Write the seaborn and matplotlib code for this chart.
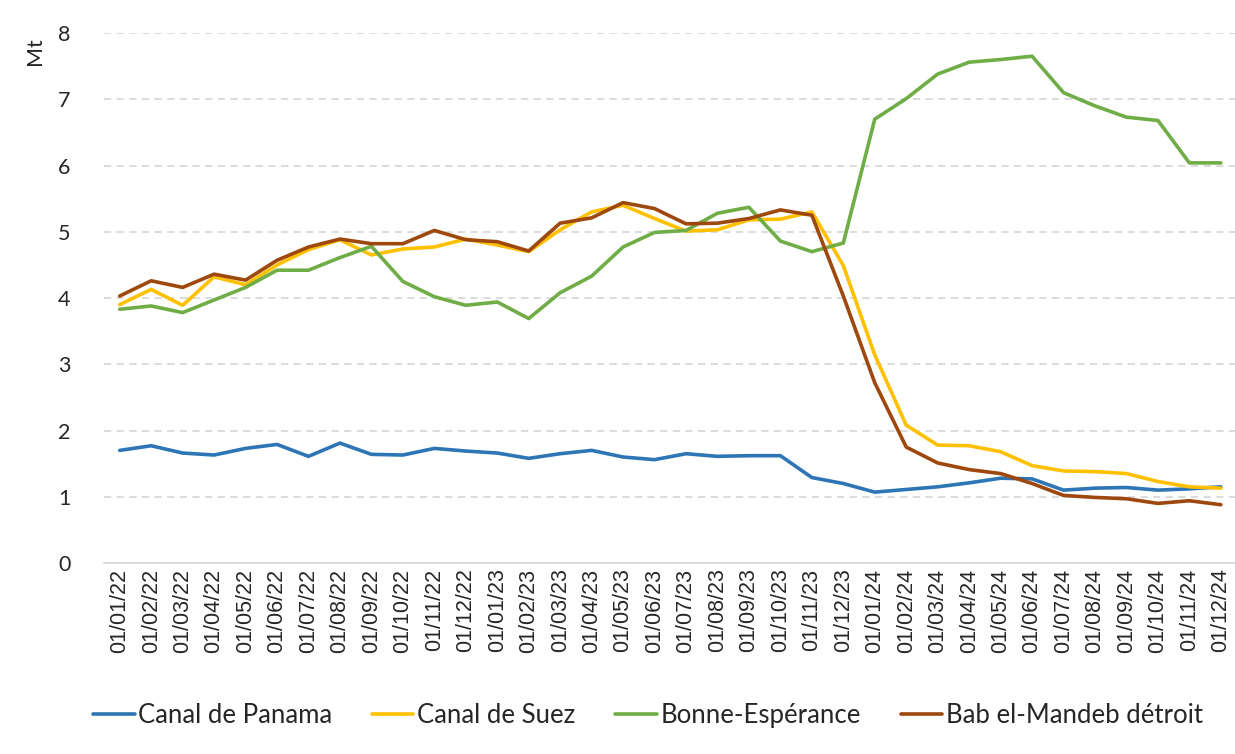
import pandas as pd
import numpy as np
import matplotlib.pyplot as plt
import seaborn as sns

# monthly labels, Jan 2022 - Dec 2024
mois = ['01/%02d/%d' % (m, y) for y in (22, 23, 24) for m in range(1, 13)]

panama = [1.70, 1.77, 1.66, 1.63, 1.73, 1.79, 1.61, 1.81, 1.64, 1.63, 1.73, 1.69,
          1.66, 1.58, 1.65, 1.70, 1.60, 1.56, 1.65, 1.61, 1.62, 1.62, 1.29, 1.20,
          1.07, 1.11, 1.15, 1.21, 1.28, 1.27, 1.10, 1.13, 1.14, 1.10, 1.12, 1.15]
suez = [3.90, 4.13, 3.89, 4.32, 4.20, 4.50, 4.73, 4.88, 4.65, 4.74, 4.77, 4.89,
        4.80, 4.70, 5.03, 5.30, 5.40, 5.20, 5.01, 5.03, 5.18, 5.19, 5.30, 4.49,
        3.14, 2.08, 1.78, 1.77, 1.68, 1.47, 1.39, 1.38, 1.35, 1.23, 1.15, 1.13]
bonne = [3.83, 3.88, 3.78, 3.97, 4.16, 4.42, 4.42, 4.61, 4.78, 4.25, 4.02, 3.89,
         3.94, 3.69, 4.08, 4.33, 4.77, 4.99, 5.02, 5.28, 5.37, 4.86, 4.70, 4.83,
         6.70, 7.01, 7.38, 7.56, 7.60, 7.65, 7.10, 6.90, 6.73, 6.68, 6.04, 6.04]
bab = [4.03, 4.26, 4.16, 4.36, 4.27, 4.57, 4.77, 4.89, 4.82, 4.82, 5.02, 4.88,
       4.85, 4.71, 5.13, 5.21, 5.44, 5.35, 5.12, 5.13, 5.20, 5.33, 5.25, 4.03,
       2.72, 1.75, 1.51, 1.41, 1.35, 1.20, 1.02, 0.99, 0.97, 0.90, 0.94, 0.88]

series = ['Canal de Panama', 'Canal de Suez', 'Bonne-Espérance', 'Bab el-Mandeb détroit']
colors = ['#2E75B6', '#FFC000', '#70AD47', '#9E480E']

rows = []
for name, vals in zip(series, [panama, suez, bonne, bab]):
    for i, v in enumerate(vals):
        rows.append({'idx': i, 'Mt': v, 'route': name})
df = pd.DataFrame(rows)

sns.set_style('white')
plt.rcParams['font.family'] = ['Liberation Sans', 'DejaVu Sans']

fig = plt.figure(figsize=(12.35, 7.54), dpi=100)
ax = fig.add_axes([0.0842, 0.2533, 0.9158, 0.7029])

sns.lineplot(data=df, x='idx', y='Mt', hue='route', hue_order=series,
             palette=colors, linewidth=2.6, ax=ax)

ax.set_xlim(-0.5, 35.45)
ax.set_ylim(0, 8)
ax.set_yticks(range(0, 9))
ax.set_yticklabels([str(v) for v in range(0, 9)], family='Lato', fontsize=15.5)
ax.set_xticks(range(len(mois)))
ax.set_xticklabels(mois, rotation=90, fontsize=15.5)
ax.tick_params(axis='x', length=0, pad=4)
ax.tick_params(axis='y', length=0, pad=24)

ax.grid(axis='y', color='#D9D9D9', linestyle=(0, (4, 3)), linewidth=1.3)
ax.set_axisbelow(True)
for s in ['top', 'right', 'left']:
    ax.spines[s].set_visible(False)
ax.spines['bottom'].set_color('#D9D9D9')
ax.spines['bottom'].set_linewidth(1.3)

ax.set_xlabel('')
ax.set_ylabel('Mt', family='Lato', fontsize=15.5)
ax.yaxis.set_label_coords(-0.052, 0.965)

ax.legend(loc='upper center', bbox_to_anchor=(0.481, -0.22), ncol=4,
          frameon=False, handlelength=1.6, handletextpad=0.15, columnspacing=1.55,
          prop={'family': 'Lato', 'size': 18.5})

plt.savefig('out.png', dpi=100)
